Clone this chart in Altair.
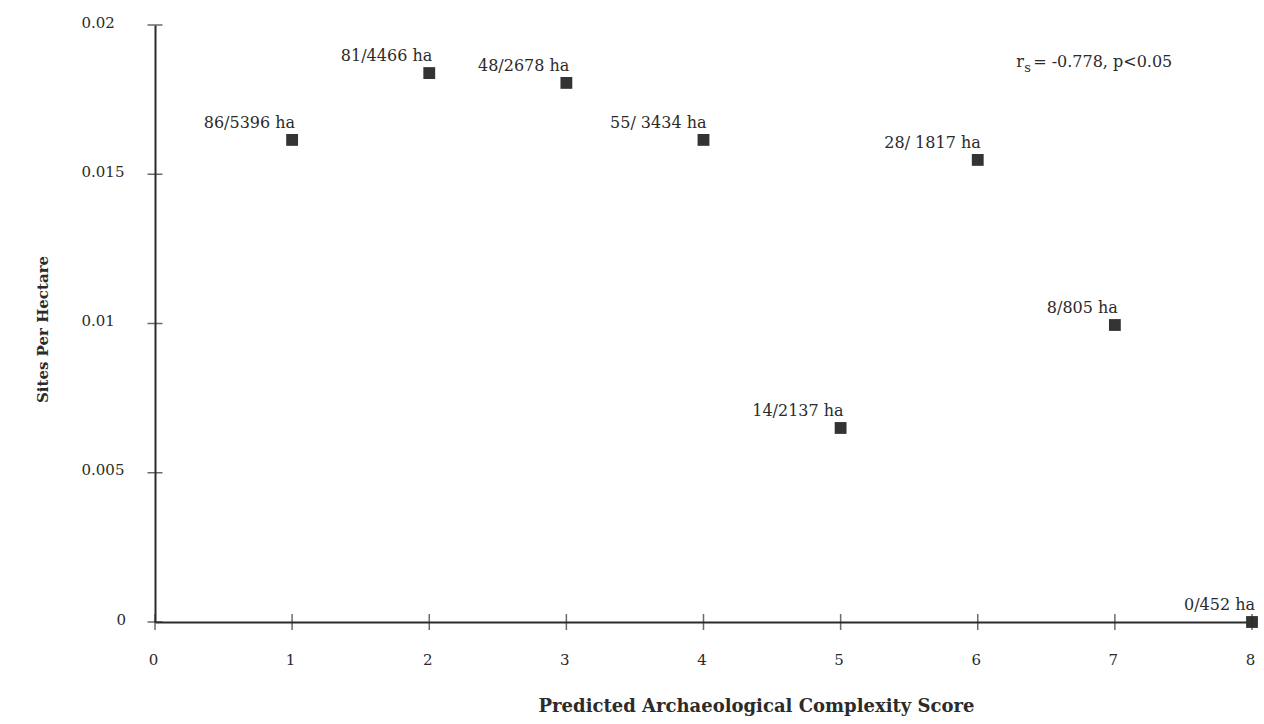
import altair as alt
import pandas as pd

# Data
scores = [1, 2, 3, 4, 5, 6, 7, 8]
sites_per_ha = [0.01615, 0.01839, 0.01806, 0.01615, 0.0065, 0.01548, 0.00995, 0.0]
labels = ["86/5396 ha", "81/4466 ha", "48/2678 ha", "55/ 3434 ha",
          "14/2137 ha", "28/ 1817 ha", "8/805 ha", "0/452 ha"]
x_ticks = [0, 1, 2, 3, 4, 5, 6, 7, 8]
y_ticks = [0, 0.005, 0.01, 0.015, 0.02]

annot_x = [6.28]
annot_y = [0.0186]

FONT = "DejaVu Serif"
INK = "#2b2b2b"

df = pd.DataFrame({"score": scores, "rate": sites_per_ha, "label": labels})
xt = pd.DataFrame({"score": x_ticks})
yt = pd.DataFrame({"rate": y_ticks})
an = pd.DataFrame({"score": annot_x, "rate": annot_y})

xscale = alt.Scale(domain=[0, 8], nice=False, zero=False)
yscale = alt.Scale(domain=[0, 0.02], nice=False, zero=False)

x_enc = alt.X("score:Q", scale=xscale, axis=alt.Axis(
    values=x_ticks, format="d", ticks=False, labelPadding=30, labelFlush=False,
    labelOffset=-2,
    labelFont=FONT, labelFontSize=15, labelColor=INK,
    domainColor=INK, domainWidth=2, grid=False,
    title="Predicted Archaeological Complexity Score",
    titleFont=FONT, titleFontSize=18, titleFontWeight="bold", titleColor=INK,
    titleX=601, titleY=84, titleBaseline="middle", titleAnchor="middle"))
y_enc = alt.Y("rate:Q", scale=yscale, axis=alt.Axis(
    values=y_ticks, format="~g", ticks=False,
    labelPadding={"condition": {"test": "datum.value == 0", "value": 39}, "value": 74},
    labelAlign="left", labelOffset=-3, labelFlush=False,
    labelFont=FONT, labelFontSize=15, labelColor=INK,
    domainColor=INK, domainWidth=2, grid=False,
    title="Sites Per Hectare",
    titleFont=FONT, titleFontSize=15, titleFontWeight="bold", titleColor=INK,
    titleX=-113, titleY=304, titleAngle=-90, titleBaseline="middle",
    titleAnchor="middle"))

points = alt.Chart(df).mark_point(shape="square", filled=True, size=140,
                                  color="#333333", opacity=1).encode(x=x_enc, y=y_enc)

text = alt.Chart(df).mark_text(align="right", baseline="alphabetic", dx=3, dy=-12,
                               font=FONT, fontSize=16, color=INK).encode(
    x=alt.X("score:Q", scale=xscale), y=alt.Y("rate:Q", scale=yscale), text="label:N")

xticks = alt.Chart(xt).mark_tick(size=16, thickness=1.5, color=INK, orient="vertical").encode(
    x=alt.X("score:Q", scale=xscale), y=alt.value(597))
yticks = alt.Chart(yt).mark_tick(size=15, thickness=1.5, color=INK, orient="horizontal").encode(
    y=alt.Y("rate:Q", scale=yscale), x=alt.value(0))

r_txt = alt.Chart(an).mark_text(align="left", baseline="alphabetic", font=FONT,
                                fontSize=16, color=INK).encode(
    x=alt.X("score:Q", scale=xscale), y=alt.Y("rate:Q", scale=yscale), text=alt.value("r"))
s_txt = alt.Chart(an).mark_text(align="left", baseline="alphabetic", dx=8, dy=5, font=FONT,
                                fontSize=13, color=INK).encode(
    x=alt.X("score:Q", scale=xscale), y=alt.Y("rate:Q", scale=yscale), text=alt.value("s"))
rest_txt = alt.Chart(an).mark_text(align="left", baseline="alphabetic", dx=17, font=FONT,
                                   fontSize=16, color=INK).encode(
    x=alt.X("score:Q", scale=xscale), y=alt.Y("rate:Q", scale=yscale),
    text=alt.value("= -0.778, p<0.05"))

chart = alt.layer(points, text, xticks, yticks, r_txt, s_txt, rest_txt).properties(
    width=1097, height=597,
    autosize=alt.AutoSizeParams(type="none"),
    padding={"left": 155, "top": 25, "right": 12, "bottom": 102},
    background="white",
).configure_view(stroke=None)

chart.save("out.html", embed_options={"renderer": "svg", "actions": False})
